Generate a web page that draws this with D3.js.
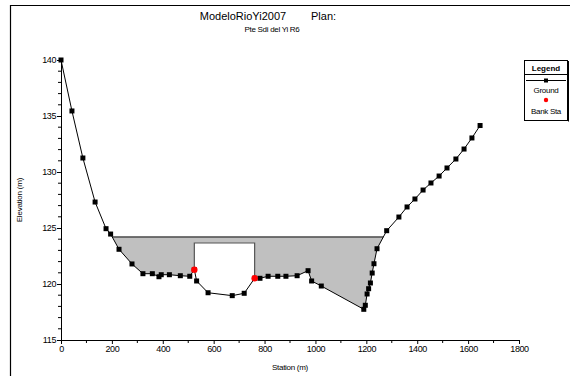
<!DOCTYPE html>
<html><head><meta charset="utf-8">
<script src="https://cdn.jsdelivr.net/npm/d3@7"></script>
<style>
body{margin:0;background:#fff;}
text{font-family:"Liberation Sans",Arial,sans-serif;}
</style></head><body>
<svg id="c" width="570" height="376"></svg>
<script>
const stations = [0,43,86,134,177,195,228,279,322,359,385,394,426,469,506,524,533,578,673,720,761,782,814,852,884,928,971,985,1023,1190,1196,1203,1209,1216,1223,1230,1242,1280,1328,1360,1391,1423,1454,1486,1517,1552,1584,1615,1647];
const elevations = [140.0,135.45,131.25,127.32,124.94,124.46,123.10,121.79,120.92,120.92,120.65,120.83,120.83,120.74,120.69,121.28,120.27,119.22,118.96,119.17,120.51,120.51,120.69,120.69,120.69,120.74,121.19,120.27,119.82,117.74,118.10,119.11,119.58,120.09,120.98,121.81,123.15,124.76,125.98,126.88,127.59,128.39,129.02,129.64,130.36,131.16,132.05,133.04,134.15];
const bankStations = [524, 761];
const bankElevations = [121.28, 120.51];
const waterSurface = [124.2];
const lowChord = [123.66];
const xTicks = [0,200,400,600,800,1000,1200,1400,1600,1800];
const yTicks = [115,120,125,130,135,140];

const svg = d3.select("#c");
const x = d3.scaleLinear().domain([0,1800]).range([61,519]);
const y = d3.scaleLinear().domain([115,140]).range([340,60]);

// outer frame
svg.append("path").attr("d","M10.5,380 V5.5 H580").attr("fill","none").attr("stroke","#000").attr("stroke-width",1.2);

// title
svg.append("text").attr("x",243).attr("y",20).attr("text-anchor","middle").attr("font-size",11).text("ModeloRioYi2007");
svg.append("text").attr("x",311).attr("y",20).attr("font-size",11).text("Plan:");
svg.append("text").attr("x",272).attr("y",32).attr("text-anchor","middle").attr("font-size",8).attr("letter-spacing",-0.3).text("Pte Sdi del Yi R6");

const ground = stations.map((s,i)=>({s:s,e:elevations[i]}));
const ws = waterSurface[0];

// build wet polygon pieces with intersections
let pts = [];
for(let i=0;i<ground.length;i++){
  const a=ground[i];
  if(i>0){
    const b=ground[i-1];
    if((a.e-ws)*(b.e-ws)<0){
      const t=(ws-b.e)/(a.e-b.e);
      pts.push({s:b.s+t*(a.s-b.s),e:ws});
    }
  }
  pts.push(a);
}
const wet = pts.filter(p=>p.e<=ws+1e-9);
const wsL = wet[0].s, wsR = wet[wet.length-1].s;

const area = d3.area().x(d=>x(d.s)).y0(y(ws)).y1(d=>y(d.e));
svg.append("path").datum(wet).attr("d",area).attr("fill","#c0c0c0").attr("stroke","none");

// bridge opening (white) below low chord between bank stations
const lc = lowChord[0];
const opening = ground.filter(d=>d.s>=bankStations[0] && d.s<=bankStations[1]);
const area2 = d3.area().x(d=>x(d.s)).y0(y(lc)).y1(d=>y(d.e));
svg.append("path").datum(opening).attr("d",area2).attr("fill","#fff").attr("stroke","none");
svg.append("path")
  .attr("d",`M${x(bankStations[0])},${y(bankElevations[0])} V${y(lc)} H${x(bankStations[1])} V${y(bankElevations[1])}`)
  .attr("fill","none").attr("stroke","#555").attr("stroke-width",1.2);

// water surface line
svg.append("line").attr("x1",x(wsL)).attr("x2",x(wsR)).attr("y1",y(ws)).attr("y2",y(ws)).attr("stroke","#000").attr("stroke-width",1);

// axes
const xAxis = svg.append("g").attr("transform","translate(0,340)");
xAxis.call(d3.axisBottom(x).tickValues(xTicks).tickSize(4).tickPadding(2).tickFormat(d3.format("d")));
xAxis.append("g").selectAll("line").data(d3.range(100,1800,200)).join("line")
  .attr("x1",d=>x(d)).attr("x2",d=>x(d)).attr("y1",0).attr("y2",3).attr("stroke","#000");
const yAxis = svg.append("g").attr("transform","translate(61,0)");
yAxis.call(d3.axisLeft(y).tickValues(yTicks).tickSize(4).tickPadding(1).tickFormat(d3.format("d")));
yAxis.append("g").selectAll("line").data(d3.range(116,140).filter(v=>v%5!==0)).join("line")
  .attr("x1",-3).attr("x2",0).attr("y1",d=>y(d)).attr("y2",d=>y(d)).attr("stroke","#000");
[xAxis,yAxis].forEach(g=>{
  g.select(".domain").attr("stroke","#000").attr("d", g===xAxis ? "M61.5,0.5H519.5" : "M0.5,60V340.5");
  g.selectAll("text").attr("font-size",9).attr("letter-spacing",-0.4).attr("fill","#000").attr("font-family","Liberation Sans, Arial, sans-serif");
});

// axis titles
svg.append("text").attr("transform","translate(22,200) rotate(-90)").attr("text-anchor","middle").attr("font-size",8).attr("letter-spacing",-0.2).text("Elevation (m)");
svg.append("text").attr("x",290).attr("y",370).attr("text-anchor","middle").attr("font-size",8).attr("letter-spacing",-0.3).text("Station (m)");

// ground line and markers
svg.append("path").datum(ground).attr("d",d3.line().x(d=>x(d.s)).y(d=>y(d.e))).attr("fill","none").attr("stroke","#000").attr("stroke-width",1);
svg.append("g").selectAll("rect").data(ground).join("rect")
  .attr("x",d=>x(d.s)-2.5).attr("y",d=>y(d.e)-2.5).attr("width",5).attr("height",5).attr("fill","#000");
svg.append("g").selectAll("circle").data(bankStations).join("circle")
  .attr("cx",d=>x(d)).attr("cy",(d,i)=>y(bankElevations[i])).attr("r",3.2).attr("fill","#ff0000");

// legend
const lg = svg.append("g");
lg.append("rect").attr("x",524.5).attr("y",60.5).attr("width",43).attr("height",60).attr("fill","#fff").attr("stroke","#000");
lg.append("line").attr("x1",568.5).attr("x2",568.5).attr("y1",61).attr("y2",121.5).attr("stroke","#000").attr("stroke-width",1);
lg.append("line").attr("x1",524.5).attr("x2",567.5).attr("y1",74.5).attr("y2",74.5).attr("stroke","#000");
lg.append("text").attr("x",546).attr("y",71).attr("text-anchor","middle").attr("font-size",8).attr("font-weight","bold").text("Legend");
lg.append("line").attr("x1",526).attr("x2",566).attr("y1",80.5).attr("y2",80.5).attr("stroke","#000");
lg.append("rect").attr("x",544).attr("y",78.5).attr("width",4).attr("height",4).attr("fill","#000");
lg.append("text").attr("x",546).attr("y",93).attr("text-anchor","middle").attr("font-size",8).attr("letter-spacing",-0.3).text("Ground");
lg.append("circle").attr("cx",546).attr("cy",100).attr("r",2.2).attr("fill","#ff0000");
lg.append("text").attr("x",546).attr("y",114).attr("text-anchor","middle").attr("font-size",8).attr("letter-spacing",-0.3).text("Bank Sta");
</script>
</body></html>
